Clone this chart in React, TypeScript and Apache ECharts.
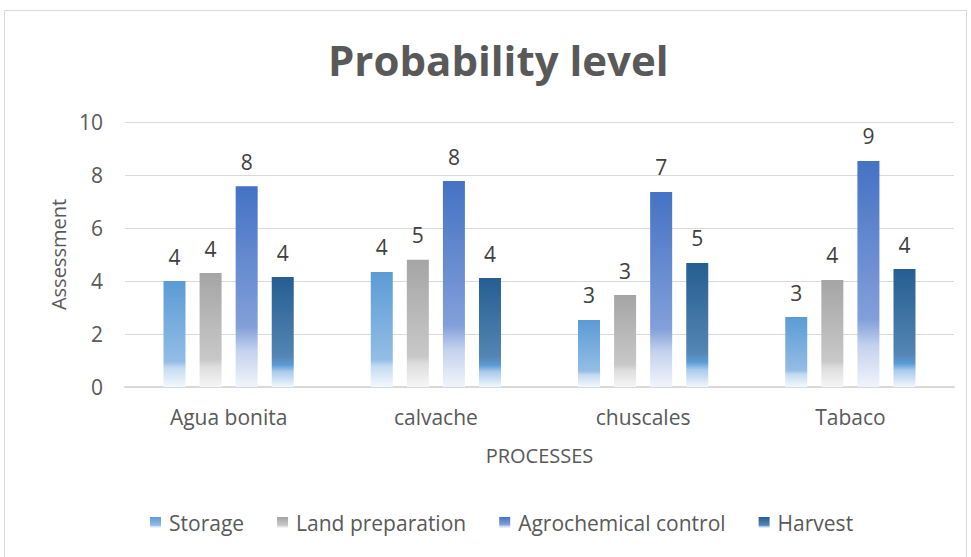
import React, { useEffect, useRef } from "react";
import * as echarts from "echarts";

const categories = ["Agua bonita", "calvache", "chuscales", "Tabaco"];
const seriesNames = ["Storage", "Land preparation", "Agrochemical control", "Harvest"];
const storage = [4.0, 4.34, 2.53, 2.64];
const landPreparation = [4.3, 4.8, 3.47, 4.04];
const agrochemicalControl = [7.58, 7.77, 7.36, 8.53];
const harvest = [4.15, 4.11, 4.68, 4.45];
const yTicks = { min: 0, max: 10, interval: 2 };

const FONT = "'Open Sans', 'Noto Sans', sans-serif";
const TEXT = "#595959";

// Vertical fills: solid at the top, fading out towards the baseline
const fills = [
  [
    [0, "#5B9BD5"],
    [0.76, "#93BDE5"],
    [0.82, "#C3DBF1"],
    [1, "#F4F8FC"],
  ],
  [
    [0, "#A5A5A5"],
    [0.76, "#C8C8C8"],
    [0.82, "#DDDDDD"],
    [1, "#F6F6F6"],
  ],
  [
    [0, "#4472C4"],
    [0.7, "#829FD9"],
    [0.82, "#C4D2EE"],
    [1, "#F1F4FB"],
  ],
  [
    [0, "#255E91"],
    [0.72, "#5485B3"],
    [0.8, "#5B9BD5"],
    [0.86, "#A9CAEB"],
    [1, "#F2F7FC"],
  ],
];

function gradient(stops: (string | number)[][]) {
  return new echarts.graphic.LinearGradient(
    0,
    0,
    0,
    1,
    stops.map(([offset, color]) => ({ offset: offset as number, color: color as string }))
  );
}

export default function App() {
  const ref = useRef<HTMLDivElement>(null);

  useEffect(() => {
    document.body.style.margin = "0";
    const chart = echarts.init(ref.current!, null, { renderer: "svg" });
    const values = [storage, landPreparation, agrochemicalControl, harvest];

    chart.setOption({
      animation: false,
      backgroundColor: "#FFFFFF",
      graphic: [
        {
          type: "rect",
          shape: { x: 4.5, y: 10.5, width: 962, height: 560 },
          style: { fill: "none", stroke: "#D9D9D9", lineWidth: 1 },
          silent: true,
        },
      ],
      title: {
        text: "Probability level",
        left: 323,
        top: 33,
        textStyle: { fontFamily: FONT, fontSize: 42, fontWeight: "bold", color: TEXT },
      },
      grid: { left: 125, right: 17, top: 122, bottom: 170, containLabel: false },
      legend: {
        bottom: 19,
        left: 145,
        itemWidth: 11,
        itemHeight: 11,
        itemGap: 33,
        icon: "rect",
        textStyle: { fontFamily: FONT, fontSize: 21, color: TEXT, padding: [0, 0, 0, 3] },
        data: seriesNames,
      },
      xAxis: {
        type: "category",
        data: categories,
        name: "PROCESSES",
        nameLocation: "middle",
        nameGap: 58,
        nameTextStyle: { fontFamily: FONT, fontSize: 20, color: TEXT },
        axisLine: { lineStyle: { color: "#D9D9D9", width: 2 } },
        axisTick: { show: false },
        axisLabel: { fontFamily: FONT, fontSize: 21, color: TEXT, margin: 19 },
      },
      yAxis: {
        type: "value",
        min: yTicks.min,
        max: yTicks.max,
        interval: yTicks.interval,
        name: "Assessment",
        nameLocation: "middle",
        nameGap: 57,
        nameTextStyle: { fontFamily: FONT, fontSize: 20, color: TEXT },
        axisLine: { show: false },
        axisTick: { show: false },
        axisLabel: { fontFamily: FONT, fontSize: 21, color: TEXT, margin: 22 },
        splitLine: { lineStyle: { color: "#D9D9D9", width: 1 } },
      },
      series: seriesNames.map((name, i) => ({
        name,
        type: "bar",
        data: values[i],
        barWidth: 22,
        barGap: "64%",
        itemStyle: { color: gradient(fills[i]) },
        label: {
          show: true,
          position: "top",
          distance: 14,
          fontFamily: FONT,
          fontSize: 21,
          color: "#404040",
          formatter: (p: any) => String(Math.round(p.value)),
        },
      })),
    });

    return () => chart.dispose();
  }, []);

  return (
    <div
      ref={ref}
      style={{ position: "absolute", left: 0, top: 0, width: 971, height: 557 }}
    />
  );
}
